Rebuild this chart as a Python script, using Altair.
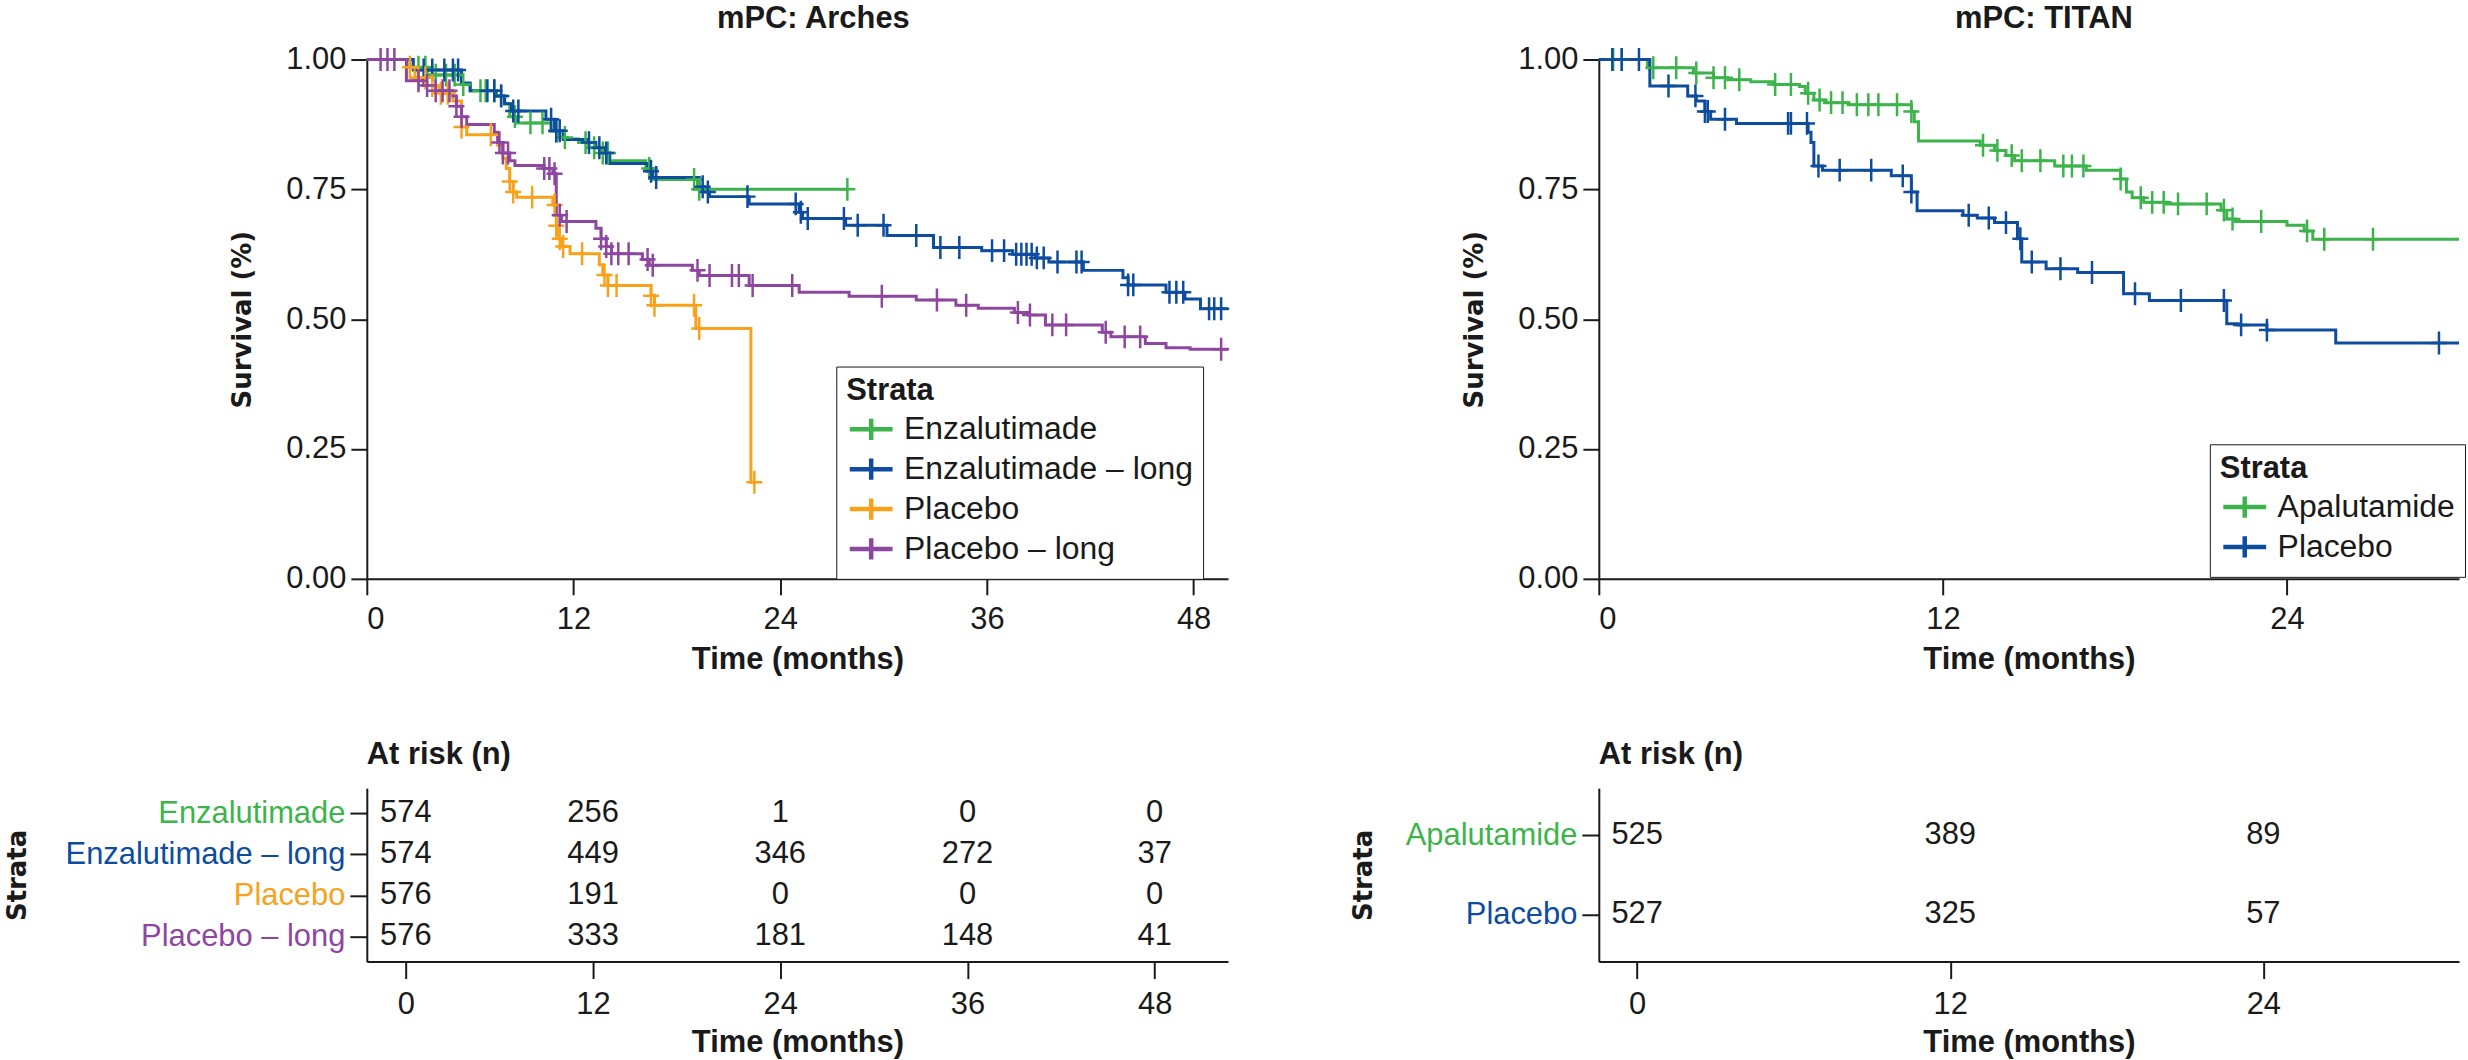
import altair as alt
import pandas as pd

# ---------------- ARCHES (left panel) ----------------
arches_strata = ["Enzalutimade", "Enzalutimade – long", "Placebo", "Placebo – long"]
arches_colors = ["#3CB44B", "#0D4C9E", "#F8A21C", "#8E47A0"]

enz_t = [0, 2.5, 3.5, 5.5, 6.0, 7.5, 8.0, 8.3, 8.7, 10.7, 11.2, 11.6, 12.3, 12.9, 13.6, 14.1, 16.2, 16.6, 19.2, 27.9]
enz_s = [1.0, 0.985, 0.97, 0.952, 0.94, 0.93, 0.915, 0.89, 0.878, 0.862, 0.85, 0.847, 0.84, 0.83, 0.82, 0.805, 0.79, 0.769, 0.75, 0.75]
enz_c = [3.0, 3.4, 4.0, 4.6, 5.1, 5.6, 6.6, 6.9, 7.4, 7.8, 8.6, 9.5, 10.2, 11.0, 11.5, 12.7, 13.2, 13.7, 14.0, 16.4, 19.0, 19.3, 27.9]

enzl_t = [0, 2.7, 5.5, 6.0, 7.5, 8.0, 8.4, 10.4, 10.9, 11.4, 12.8, 13.3, 13.8, 14.1, 16.3, 16.6, 19.3, 19.6, 19.9, 22.2,
          25.1, 25.3, 27.8, 30.2, 32.9, 35.7, 37.5, 38.8, 39.6, 41.6, 43.9, 44.2, 46.4, 47.5, 48.4, 50.0]
enzl_s = [1.0, 0.98, 0.955, 0.94, 0.93, 0.915, 0.901, 0.885, 0.863, 0.846, 0.84, 0.83, 0.82, 0.80, 0.785, 0.773, 0.755, 0.745, 0.736, 0.722,
          0.706, 0.694, 0.681, 0.661, 0.638, 0.632, 0.625, 0.618, 0.61, 0.594, 0.58, 0.566, 0.552, 0.539, 0.52, 0.52]
enzl_c = [3.3, 3.8, 4.5, 5.0, 5.3, 7.0, 7.4, 7.8, 8.5, 8.8, 10.7, 11.0, 11.2, 12.9, 13.5, 13.9, 16.5, 16.8, 19.5, 19.8, 22.1,
          24.9, 25.2, 25.6, 27.7, 28.5, 30.0, 31.9, 33.3, 34.4, 36.3, 37.0, 37.7, 38.0, 38.3, 38.6, 38.9, 39.3, 40.1, 41.2,
          41.5, 44.2, 44.5, 46.6, 47.0, 47.4, 48.9, 49.2, 49.6]

pla_t = [0, 2.3, 2.8, 3.5, 4.2, 5.0, 5.5, 5.8, 7.6, 7.9, 8.1, 8.3, 8.5, 8.7, 10.8, 11.0, 11.1, 11.3, 11.8, 13.5, 13.7, 14.0,
         16.5, 16.7, 19.1, 22.3, 22.5]
pla_s = [1.0, 0.985, 0.965, 0.95, 0.935, 0.92, 0.87, 0.855, 0.835, 0.81, 0.79, 0.765, 0.745, 0.735, 0.72, 0.68, 0.655, 0.64,
         0.626, 0.605, 0.585, 0.565, 0.545, 0.527, 0.482, 0.186, 0.186]
pla_c = [2.5, 3.0, 3.4, 3.8, 4.3, 4.7, 5.5, 7.2, 8.3, 8.5, 9.6, 10.9, 11.0, 11.2, 11.4, 12.5, 13.8, 14.0, 14.5, 16.5, 16.7,
         19.0, 19.3, 22.5]

plal_t = [0, 2.3, 3.3, 4.0, 5.0, 5.2, 5.5, 5.8, 7.4, 7.6, 7.9, 8.3, 8.6, 10.3, 10.8, 11.0, 11.3, 13.3, 13.6, 13.9, 14.2, 16.0,
          16.4, 18.9, 19.3, 22.2, 25.1, 28.0, 31.9, 34.2, 35.5, 37.6, 38.4, 39.4, 42.7, 43.2, 45.2, 46.4, 47.8, 50.0]
plal_s = [1.0, 0.959, 0.95, 0.94, 0.93, 0.91, 0.89, 0.875, 0.86, 0.84, 0.82, 0.805, 0.796, 0.79, 0.78, 0.70, 0.688, 0.675,
          0.655, 0.64, 0.626, 0.615, 0.604, 0.594, 0.584, 0.565, 0.552, 0.544, 0.537, 0.527, 0.521, 0.513, 0.508, 0.489,
          0.475, 0.466, 0.453, 0.445, 0.442, 0.442]
plal_c = [0.8, 1.2, 1.6, 3.0, 3.5, 4.0, 4.4, 4.8, 5.2, 5.5, 7.7, 7.9, 8.2, 10.3, 10.6, 10.9, 11.2, 11.6, 13.6, 13.9, 14.2,
          14.6, 15.2, 16.3, 16.6, 19.2, 19.9, 21.2, 21.6, 22.4, 24.7, 29.9, 33.1, 34.8, 37.8, 38.5, 39.8, 40.6, 42.9, 44.0,
          44.9, 49.6]

arches_risk_times = [0, 12, 24, 36, 48]
arches_risk = [
    [574, 256, 1, 0, 0],
    [574, 449, 346, 272, 37],
    [576, 191, 0, 0, 0],
    [576, 333, 181, 148, 41],
]

# ---------------- TITAN (right panel) ----------------
titan_strata = ["Apalutamide", "Placebo"]
titan_colors = ["#3CB44B", "#0D4C9E"]

apa_t = [0, 1.7, 3.3, 4.0, 4.5, 5.3, 6.1, 7.0, 7.2, 7.5, 7.9, 8.7, 10.9, 11.0, 11.15, 13.3, 13.8, 14.2, 14.5, 15.9, 17.0,
         18.2, 18.4, 18.6, 19.0, 19.8, 21.7, 21.9, 22.2, 24.0, 24.6, 24.9, 30.0]
apa_s = [1.0, 0.984, 0.974, 0.965, 0.961, 0.957, 0.952, 0.948, 0.935, 0.922, 0.917, 0.913, 0.90, 0.88, 0.843, 0.835, 0.825,
         0.815, 0.805, 0.795, 0.787, 0.77, 0.745, 0.734, 0.725, 0.722, 0.71, 0.693, 0.688, 0.681, 0.67, 0.654, 0.654]
apa_c = [0.5, 0.8, 1.9, 2.7, 3.4, 4.0, 4.4, 4.9, 6.15, 6.7, 7.3, 7.7, 8.1, 8.5, 9.0, 9.4, 9.75, 10.4, 10.9, 13.4, 13.9,
         14.4, 14.75, 15.4, 16.2, 16.5, 16.9, 18.2, 18.9, 19.3, 19.7, 20.2, 21.2, 21.8, 22.1, 23.1, 24.7, 25.3, 27.0]

tpl_t = [0, 1.78, 3.1, 3.4, 3.7, 3.9, 4.8, 7.3, 7.4, 7.5, 7.8, 10.2, 10.9, 11.1, 12.7, 13.2, 13.8, 14.6, 14.75, 15.6, 16.7,
         18.3, 19.2, 21.9, 22.3, 23.3, 25.7, 30.0]
tpl_s = [1.0, 0.949, 0.93, 0.92, 0.90, 0.885, 0.877, 0.86, 0.84, 0.795, 0.787, 0.776, 0.745, 0.709, 0.70, 0.695, 0.686,
         0.655, 0.61, 0.597, 0.59, 0.549, 0.536, 0.491, 0.489, 0.479, 0.454, 0.454]
tpl_c = [0.47, 0.8, 1.4, 2.43, 3.37, 3.7, 3.8, 4.4, 6.6, 6.7, 7.26, 7.66, 8.4, 9.5, 10.6, 10.9, 12.9, 13.6, 14.2, 14.7,
         15.1, 16.1, 17.2, 18.7, 20.3, 21.8, 22.4, 23.3, 29.3]

titan_risk_times = [0, 12, 24]
titan_risk = [
    [525, 389, 89],
    [527, 325, 57],
]

FONT = "Liberation Sans"
WIDE = "DejaVu Sans"
INK = "#1a1a1a"
CENSOR = "M-0.7,0H0.7M0,-1V1"
LEG_SYM = "M-1.21,0H1.21M0,-0.6V0.6"


def surv_at(ts, ss, c):
    idx = 0
    for i, t in enumerate(ts):
        if t <= c:
            idx = i
    return ss[idx]


def build(strata, curves):
    lines, cens = [], []
    for name, (ts, ss, cs) in zip(strata, curves):
        for t, s in zip(ts, ss):
            lines.append({"time": t, "surv": s, "strata": name})
        for c in cs:
            cens.append({"time": c, "surv": surv_at(ts, ss, c), "strata": name})
    return pd.DataFrame(lines), pd.DataFrame(cens)


def risk_df(strata, times, risk):
    rows = []
    for name, vals in zip(strata, risk):
        for t, n in zip(times, vals):
            rows.append({"time": t, "strata": name, "n": n})
    return pd.DataFrame(rows)


def km_chart(lines_df, cens_df, strata, colors, xmax, xticks, lx, ly, title, dx, width):
    x = alt.X("time:Q", scale=alt.Scale(domain=[0, xmax], nice=False, zero=False),
              axis=alt.Axis(values=xticks, title="Time (months)", tickSize=16, labelPadding=10,
                            minExtent=57, maxExtent=57, titlePadding=9))
    y = alt.Y("surv:Q", scale=alt.Scale(domain=[0, 1], nice=False),
              axis=alt.Axis(values=[0, 0.25, 0.5, 0.75, 1.0], format=".2f", title="Survival (%)",
                            tickSize=16, labelPadding=5, minExtent=82, maxExtent=82, titlePadding=30,
                            titleFont=WIDE, titleFontSize=26))
    leg = alt.Legend(title="Strata", orient="none", legendX=lx, legendY=ly, direction="vertical",
                     symbolType=LEG_SYM, symbolSize=1260, symbolStrokeWidth=4.5, symbolFillColor="transparent",
                     symbolOffset=5,
                     labelFont=FONT, labelFontSize=32, labelColor=INK, labelLimit=500, labelOffset=13,
                     titleFont=FONT, titleFontSize=31, titleFontWeight="bold", titleColor=INK, titlePadding=2,
                     strokeColor=INK, fillColor="white", padding=10, rowPadding=0)
    scale = alt.Scale(domain=strata, range=colors)
    line = alt.Chart(lines_df).mark_line(interpolate="step-after", strokeWidth=3).encode(
        x=x, y=y, color=alt.Color("strata:N", scale=scale, legend=leg, sort=strata))
    pts = alt.Chart(cens_df).mark_point(shape=CENSOR, size=529, filled=False, strokeWidth=2.5, opacity=1).encode(
        x=x, y=y, color=alt.Color("strata:N", scale=scale, legend=None, sort=strata))
    return alt.layer(line, pts).properties(
        width=width, height=521,
        title=alt.TitleParams(title, anchor="middle", frame="group", dx=dx, offset=8, font=FONT,
                              fontSize=31, fontWeight="bold", color=INK))


def table_chart(df, strata, colors, xdomain, xticks, extent, tpad, width, pad):
    expr = ""
    for s, c in zip(strata, colors):
        expr += "datum.value == '" + s + "' ? '" + c + "' : "
    expr += "'" + INK + "'"
    x = alt.X("time:Q", scale=alt.Scale(domain=xdomain, nice=False, zero=False),
              axis=alt.Axis(values=xticks, title="Time (months)", tickSize=17, labelPadding=11,
                            minExtent=59, maxExtent=59, titlePadding=7))
    y = alt.Y("strata:N", sort=strata, scale=alt.Scale(type="point", domain=strata, padding=pad),
              axis=alt.Axis(title="Strata", tickSize=17, labelPadding=5, minExtent=extent, maxExtent=extent,
                            titlePadding=tpad, titleFont=WIDE, titleFontSize=26, labelLimit=500,
                            labelColor={"expr": expr}))
    return alt.Chart(df).mark_text(font=FONT, fontSize=31, color=INK, baseline="middle", align="center").encode(
        x=x, y=y, text="n:Q").properties(
        width=width, height=174,
        title=alt.TitleParams("At risk (n)", anchor="start", frame="group", offset=17, font=FONT,
                              fontSize=31, fontWeight="bold", color=INK))


a_lines, a_cens = build(arches_strata, [(enz_t, enz_s, enz_c), (enzl_t, enzl_s, enzl_c),
                                        (pla_t, pla_s, pla_c), (plal_t, plal_s, plal_c)])
t_lines, t_cens = build(titan_strata, [(apa_t, apa_s, apa_c), (tpl_t, tpl_s, tpl_c)])

km_a = km_chart(a_lines, a_cens, arches_strata, arches_colors, 50, [0, 12, 24, 36, 48], 471, 308,
                "mPC: Arches", 16, 864)
km_t = km_chart(t_lines, t_cens, titan_strata, titan_colors, 30, [0, 12, 24], 613, 386,
                "mPC: TITAN", 15, 863)

tab_a = table_chart(risk_df(arches_strata, arches_risk_times, arches_risk), arches_strata, arches_colors,
                    [-2.5, 52.7], arches_risk_times, 303, 34, 864, 0.62)
tab_t = table_chart(risk_df(titan_strata, titan_risk_times, titan_risk), titan_strata, titan_colors,
                    [-1.47, 31.5], titan_risk_times, 194, 29, 863, 0.6)

chart = alt.concat(km_a, km_t, tab_a, tab_t, columns=2, spacing={"row": 210, "column": 372},
                   bounds="flush", align="each").resolve_scale(
    x="independent", y="independent", color="independent").resolve_legend(color="independent").properties(
    padding={"left": 4, "top": 1, "right": 2, "bottom": 2}).configure(font=FONT).configure_view(
    stroke="transparent").configure_axis(
    grid=False, domainColor=INK, domainWidth=2, tickColor=INK, tickWidth=2, labelFont=FONT, labelFontSize=31,
    labelColor=INK, titleFont=FONT, titleFontSize=31, titleFontWeight="bold", titleColor=INK)

chart.save("out.html", embed_options={"renderer": "svg", "actions": False})
